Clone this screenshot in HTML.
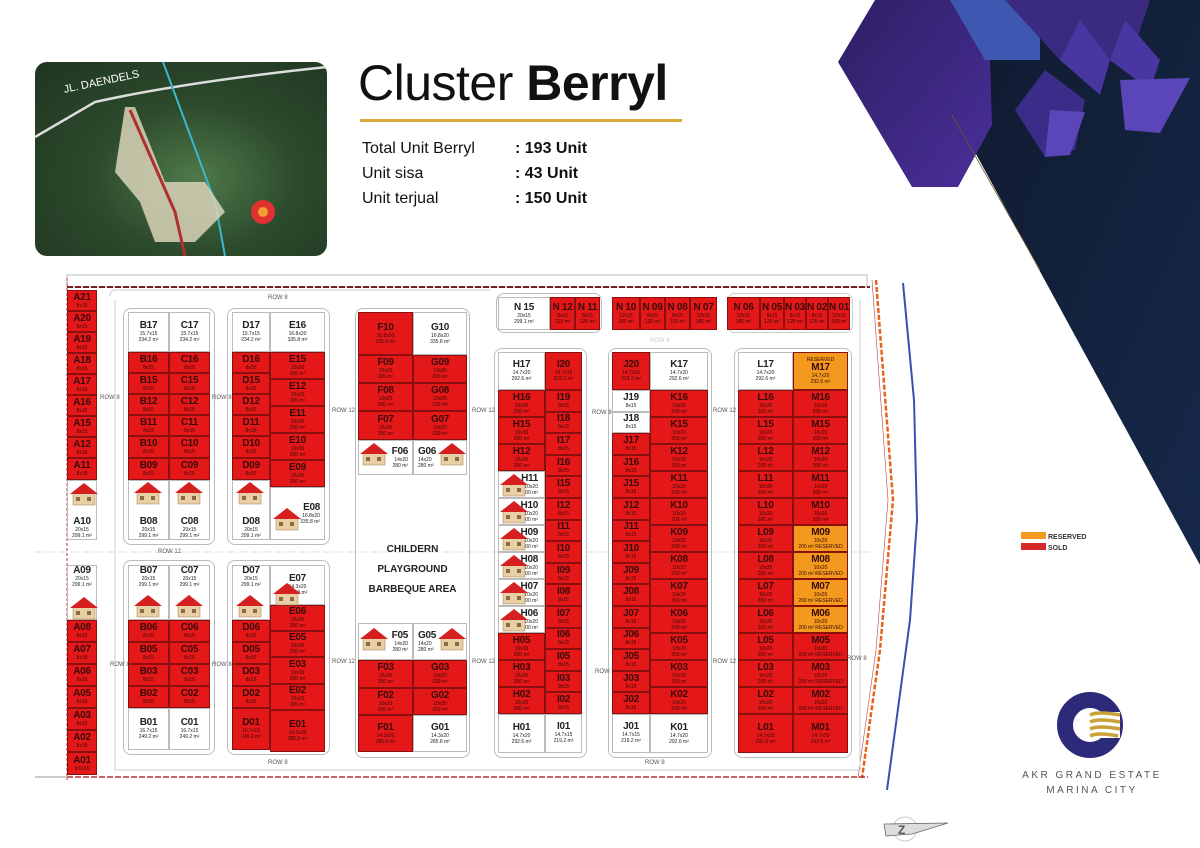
<!DOCTYPE html>
<html><head><meta charset="utf-8">
<style>
*{box-sizing:border-box;margin:0;padding:0}
body{width:1200px;height:848px;position:relative;overflow:hidden;background:#fff;font-family:"Liberation Sans","DejaVu Sans",sans-serif}
.abs{position:absolute}
.col{position:absolute;display:flex;flex-direction:column}
.col>div{flex:0 0 auto;border:0.5px solid #8a1010;display:flex;flex-direction:column;align-items:center;justify-content:center;overflow:hidden;line-height:1;color:#3a0a0a}
.col>div b{font-size:10px;font-weight:bold;letter-spacing:-0.3px}
.col>div i{font-style:normal;font-size:5px;margin-top:1px}
.r{background:#e41818}
.w{background:#fff;border-color:#bbb!important;color:#222!important}
.o{background:#f39a1e}
.blk{position:absolute;border:1.5px solid #bbb;border-radius:8px}
.lbl{position:absolute;font-size:6px;color:#555}
</style></head><body>

<svg class="abs" style="left:0;top:0" width="1200" height="848">
<defs>
<linearGradient id="dk" x1="0" y1="0" x2="1" y2="1"><stop offset="0" stop-color="#0f1a2e"/><stop offset="1" stop-color="#16284a"/></linearGradient>
<linearGradient id="pp" x1="0" y1="0" x2="1" y2="1"><stop offset="0" stop-color="#2e1f64"/><stop offset="1" stop-color="#4a2f9a"/></linearGradient>
</defs>
<polygon points="960,0 1200,0 1200,565 952,110" fill="url(#dk)"/>
<polygon points="838,62 875,0 960,0 990,60 992,125 958,187 912,187" fill="url(#pp)"/>
<polygon points="950,0 1040,0 1040,60 985,60" fill="#3e57b0"/>
<polygon points="1005,0 1150,0 1130,60 1060,60" fill="#3a2a80"/>
<polygon points="1015,110 1045,70 1085,100 1075,150 1045,157" fill="#3c2c8a"/>
<polygon points="1060,60 1080,20 1110,60 1100,95" fill="#4a36a0"/>
<polygon points="1110,60 1125,20 1160,60 1150,90" fill="#4a36a0"/>
<polygon points="1120,80 1190,78 1160,133 1125,130" fill="#5a46b8"/>
<polygon points="1050,110 1085,112 1070,155 1045,157" fill="#5a46b8"/>
<line x1="952" y1="115" x2="1040" y2="270" stroke="#6b5a2a" stroke-width="0.8"/>
<polyline points="903,283 914,400 917,520 910,620 887,790" fill="none" stroke="#3a4fb0" stroke-width="2"/>
<polyline points="876,280 893,500 880,650 862,778" fill="none" stroke="#e8641e" stroke-width="2.5" stroke-dasharray="5,2"/>
<polyline points="872,280 888,500 876,650 858,778" fill="none" stroke="#c04040" stroke-width="0.6"/>
<rect x="67" y="275" width="800" height="12" fill="none" stroke="#bbb"/>
<line x1="67" y1="287" x2="870" y2="287" stroke="#7a2020" stroke-width="2" stroke-dasharray="6,2"/>
<line x1="67" y1="777" x2="868" y2="777" stroke="#b03030" stroke-width="1.5" stroke-dasharray="6,2"/>
<line x1="35" y1="777" x2="67" y2="777" stroke="#999"/>
<line x1="67" y1="278" x2="67" y2="780" stroke="#c03030" stroke-width="1" stroke-dasharray="3,2"/>
<line x1="35" y1="552" x2="870" y2="552" stroke="#ddd" stroke-dasharray="8,4"/>
<path d="M110 296 Q110 290 116 290 L490 290 M115 300 L115 770 L860 770 L860 300" fill="none" stroke="#ccc"/>
<circle cx="905" cy="829" r="12" fill="none" stroke="#ccc"/>
<polygon points="884,824 948,823 912,834 886,836" fill="#ddd" stroke="#666" stroke-width="0.8"/>
<text x="898" y="834" font-size="12" font-weight="bold" fill="#555" font-family="Liberation Sans">Z</text>
<circle cx="1090" cy="725" r="25" fill="none" stroke="#2d2a7a" stroke-width="16"/>
<rect x="1090" y="712" width="30" height="26" fill="#fff"/>
<path d="M1090 715 q8 -4 30 0 M1090 722 q8 -4 30 0 M1090 729 q8 -4 30 0 M1090 736 q8 -4 28 0" stroke="#c9a23a" stroke-width="3.5" fill="none"/>
</svg>

<div class="abs" style="left:35px;top:62px;width:292px;height:194px;border-radius:12px;background:radial-gradient(ellipse at 55% 60%,#4f7a4a 0%,#2c4a2c 45%,#1f3520 100%);overflow:hidden">
<svg width="292" height="194"><path d="M0 75 L60 40 Q150 20 292 5" stroke="#ddd" stroke-width="2.5" fill="none"/>
<path d="M128 0 Q150 60 180 140 L190 194" stroke="#3ab8d0" stroke-width="2" fill="none"/>
<polygon points="90,45 100,45 130,120 170,120 190,150 160,180 120,180 105,140 80,110" fill="#d9d3b8" opacity=".85"/>
<path d="M95 48 L140 150 L150 194" stroke="#b03030" stroke-width="3" fill="none"/>
<circle cx="228" cy="150" r="12" fill="#e03030"/><circle cx="228" cy="150" r="5" fill="#f0a030"/></svg>
<div class="abs" style="left:28px;top:14px;color:#fff;font-size:11px;transform:rotate(-12deg)">JL. DAENDELS</div>
</div>

<div class="abs" style="left:358px;top:54px;font-size:50px;color:#111;letter-spacing:-0.5px">Cluster <b>Berryl</b></div>
<div class="abs" style="left:360px;top:119px;width:322px;height:3px;background:#d9a93a"></div>
<div class="abs" style="left:362px;top:136px;font-size:16px;line-height:25px;color:#111">Total Unit Berryl<br>Unit sisa<br>Unit terjual</div>
<div class="abs" style="left:515px;top:136px;font-size:16px;line-height:25px;color:#111;font-weight:bold">: 193 Unit<br>: 43 Unit<br>: 150 Unit</div>

<div class="abs" style="left:1021px;top:532px;width:25px;height:7px;background:#f39a1e"></div>
<div class="abs" style="left:1021px;top:543px;width:25px;height:7px;background:#d42a2a"></div>
<div class="abs" style="left:1048px;top:532px;font-size:7px;font-weight:bold;color:#333;line-height:11px">RESERVED<br>SOLD</div>
<div class="abs" style="left:1012px;top:768px;font-size:10px;letter-spacing:2.5px;color:#555;text-align:center;width:160px;line-height:15px">AKR GRAND ESTATE<br>MARINA CITY</div>

<div class="blk" style="left:123px;top:308px;width:92px;height:237px"></div>
<div class="blk" style="left:123px;top:560px;width:92px;height:195px"></div>
<div class="blk" style="left:227px;top:308px;width:103px;height:237px"></div>
<div class="blk" style="left:227px;top:560px;width:103px;height:195px"></div>
<div class="blk" style="left:355px;top:308px;width:115px;height:450px"></div>
<div class="blk" style="left:494px;top:348px;width:93px;height:410px"></div>
<div class="blk" style="left:608px;top:348px;width:104px;height:410px"></div>
<div class="blk" style="left:734px;top:348px;width:118px;height:410px"></div>
<div class="blk" style="left:496px;top:293px;width:106px;height:40px"></div>
<div class="blk" style="left:727px;top:293px;width:126px;height:40px;border-color:#ccc"></div>

<div class="lbl" style="left:268px;top:295px">ROW 8</div>
<div class="lbl" style="left:100px;top:395px">ROW 8</div>
<div class="lbl" style="left:212px;top:395px">ROW 8</div>
<div class="lbl" style="left:332px;top:408px">ROW 12</div>
<div class="lbl" style="left:472px;top:408px">ROW 12</div>
<div class="lbl" style="left:592px;top:410px">ROW 8</div>
<div class="lbl" style="left:713px;top:408px">ROW 12</div>
<div class="lbl" style="left:158px;top:549px">ROW 12</div>
<div class="lbl" style="left:110px;top:662px">ROW 8</div>
<div class="lbl" style="left:212px;top:662px">ROW 8</div>
<div class="lbl" style="left:332px;top:659px">ROW 12</div>
<div class="lbl" style="left:472px;top:659px">ROW 12</div>
<div class="lbl" style="left:595px;top:669px">ROW 8</div>
<div class="lbl" style="left:713px;top:659px">ROW 12</div>
<div class="lbl" style="left:847px;top:656px">ROW 8</div>
<div class="lbl" style="left:268px;top:760px">ROW 8</div>
<div class="lbl" style="left:645px;top:760px">ROW 8</div>
<div class="lbl" style="left:650px;top:338px;color:#ccc">ROW 8</div>

<div class="col" style="left:67px;top:290px;width:30px">
<div class="r" style="height:21px"><b>A21</b><i>8x15</i></div><div class="r" style="height:21px"><b>A20</b><i>8x15</i></div><div class="r" style="height:21px"><b>A19</b><i>8x15</i></div><div class="r" style="height:21px"><b>A18</b><i>8x15</i></div><div class="r" style="height:21px"><b>A17</b><i>8x15</i></div><div class="r" style="height:21px"><b>A16</b><i>8x15</i></div><div class="r" style="height:21px"><b>A15</b><i>8x15</i></div><div class="r" style="height:21px"><b>A12</b><i>8x15</i></div><div class="r" style="height:22px"><b>A11</b><i>8x15</i></div>
<div class="w" style="height:60px;justify-content:flex-end"><b>A10</b><i>20x15</i><i>299.1 m²</i></div>
</div>
<div class="col" style="left:67px;top:565px;width:30px">
<div class="w" style="height:55px;justify-content:flex-start"><b>A09</b><i>20x15</i><i>299.1 m²</i></div>
<div class="r" style="height:22px"><b>A08</b><i>8x15</i></div><div class="r" style="height:22px"><b>A07</b><i>8x15</i></div><div class="r" style="height:22px"><b>A06</b><i>8x15</i></div><div class="r" style="height:22px"><b>A05</b><i>8x15</i></div><div class="r" style="height:22px"><b>A03</b><i>8x15</i></div><div class="r" style="height:22px"><b>A02</b><i>8x15</i></div><div class="r" style="height:23px"><b>A01</b><i>9.6x15</i></div>
</div>

<div class="col" style="left:128px;top:312px;width:41px">
<div class="w" style="height:40px"><b>B17</b><i>15.7x15</i><i>234.2 m²</i></div>
<div class="r" style="height:21px"><b>B16</b><i>8x15</i></div><div class="r" style="height:21px"><b>B15</b><i>8x15</i></div><div class="r" style="height:21px"><b>B12</b><i>8x15</i></div><div class="r" style="height:21px"><b>B11</b><i>8x15</i></div><div class="r" style="height:22px"><b>B10</b><i>8x15</i></div><div class="r" style="height:22px"><b>B09</b><i>8x15</i></div>
<div class="w" style="height:60px;justify-content:flex-end"><b>B08</b><i>20x15</i><i>299.1 m²</i></div></div>
<div class="col" style="left:169px;top:312px;width:41px">
<div class="w" style="height:40px"><b>C17</b><i>15.7x15</i><i>234.2 m²</i></div>
<div class="r" style="height:21px"><b>C16</b><i>8x15</i></div><div class="r" style="height:21px"><b>C15</b><i>8x15</i></div><div class="r" style="height:21px"><b>C12</b><i>8x15</i></div><div class="r" style="height:21px"><b>C11</b><i>8x15</i></div><div class="r" style="height:22px"><b>C10</b><i>8x15</i></div><div class="r" style="height:22px"><b>C09</b><i>8x15</i></div>
<div class="w" style="height:60px;justify-content:flex-end"><b>C08</b><i>20x15</i><i>299.1 m²</i></div></div>
<div class="col" style="left:128px;top:565px;width:41px">
<div class="w" style="height:55px;justify-content:flex-start"><b>B07</b><i>20x15</i><i>299.1 m²</i></div>
<div class="r" style="height:22px"><b>B06</b><i>8x15</i></div><div class="r" style="height:22px"><b>B05</b><i>8x15</i></div><div class="r" style="height:22px"><b>B03</b><i>8x15</i></div><div class="r" style="height:22px"><b>B02</b><i>8x15</i></div>
<div class="w" style="height:42px"><b>B01</b><i>16.7x15</i><i>249.2 m²</i></div></div>
<div class="col" style="left:169px;top:565px;width:41px">
<div class="w" style="height:55px;justify-content:flex-start"><b>C07</b><i>20x15</i><i>299.1 m²</i></div>
<div class="r" style="height:22px"><b>C06</b><i>8x15</i></div><div class="r" style="height:22px"><b>C05</b><i>8x15</i></div><div class="r" style="height:22px"><b>C03</b><i>8x15</i></div><div class="r" style="height:22px"><b>C02</b><i>8x15</i></div>
<div class="w" style="height:42px"><b>C01</b><i>16.7x15</i><i>249.2 m²</i></div></div>

<div class="col" style="left:232px;top:312px;width:38px">
<div class="w" style="height:40px"><b>D17</b><i>15.7x15</i><i>234.2 m²</i></div>
<div class="r" style="height:21px"><b>D16</b><i>8x15</i></div><div class="r" style="height:21px"><b>D15</b><i>8x15</i></div><div class="r" style="height:21px"><b>D12</b><i>8x15</i></div><div class="r" style="height:21px"><b>D11</b><i>8x15</i></div><div class="r" style="height:22px"><b>D10</b><i>8x15</i></div><div class="r" style="height:22px"><b>D09</b><i>8x15</i></div>
<div class="w" style="height:60px;justify-content:flex-end"><b>D08</b><i>20x15</i><i>299.1 m²</i></div></div>
<div class="col" style="left:270px;top:312px;width:55px">
<div class="w" style="height:40px"><b>E16</b><i>16.8x20</i><i>335.8 m²</i></div>
<div class="r" style="height:27px"><b>E15</b><i>10x20</i><i>200 m²</i></div><div class="r" style="height:27px"><b>E12</b><i>10x20</i><i>200 m²</i></div><div class="r" style="height:27px"><b>E11</b><i>10x20</i><i>200 m²</i></div><div class="r" style="height:27px"><b>E10</b><i>10x20</i><i>200 m²</i></div><div class="r" style="height:27px"><b>E09</b><i>10x20</i><i>200 m²</i></div>
<div class="w" style="height:53px;align-items:flex-end;padding-right:4px"><b>E08</b><i>16.8x20</i><i>335.8 m²</i></div></div>
<div class="col" style="left:232px;top:565px;width:38px">
<div class="w" style="height:55px;justify-content:flex-start"><b>D07</b><i>20x15</i><i>299.1 m²</i></div>
<div class="r" style="height:22px"><b>D06</b><i>8x15</i></div><div class="r" style="height:22px"><b>D05</b><i>8x15</i></div><div class="r" style="height:22px"><b>D03</b><i>8x15</i></div><div class="r" style="height:22px"><b>D02</b><i>8x15</i></div>
<div class="r" style="height:42px"><b>D01</b><i>16.7x15</i><i>249.2 m²</i></div></div>
<div class="col" style="left:270px;top:565px;width:55px">
<div class="w" style="height:40px"><b>E07</b><i>14.3x20</i><i>285.8 m²</i></div>
<div class="r" style="height:26px"><b>E06</b><i>10x20</i><i>200 m²</i></div><div class="r" style="height:26px"><b>E05</b><i>10x20</i><i>200 m²</i></div><div class="r" style="height:27px"><b>E03</b><i>10x20</i><i>200 m²</i></div><div class="r" style="height:26px"><b>E02</b><i>10x20</i><i>200 m²</i></div>
<div class="r" style="height:42px"><b>E01</b><i>14.3x20</i><i>285.8 m²</i></div></div>

<div class="col" style="left:358px;top:312px;width:55px">
<div class="r" style="height:43px"><b>F10</b><i>16.8x20</i><i>335.8 m²</i></div>
<div class="r" style="height:28px"><b>F09</b><i>10x20</i><i>200 m²</i></div><div class="r" style="height:28px"><b>F08</b><i>10x20</i><i>200 m²</i></div><div class="r" style="height:29px"><b>F07</b><i>10x20</i><i>200 m²</i></div>
<div class="w" style="height:35px;align-items:flex-end;padding-right:4px"><b>F06</b><i>14x20</i><i>280 m²</i></div></div>
<div class="col" style="left:413px;top:312px;width:54px">
<div class="w" style="height:43px"><b>G10</b><i>16.8x20</i><i>335.8 m²</i></div>
<div class="r" style="height:28px"><b>G09</b><i>10x20</i><i>200 m²</i></div><div class="r" style="height:28px"><b>G08</b><i>10x20</i><i>200 m²</i></div><div class="r" style="height:29px"><b>G07</b><i>10x20</i><i>200 m²</i></div>
<div class="w" style="height:35px;align-items:flex-start;padding-left:4px"><b>G06</b><i>14x20</i><i>280 m²</i></div></div>
<div class="abs" style="left:358px;top:540px;width:109px;text-align:center;font-size:10px;font-weight:bold;line-height:20px;color:#222">CHILDERN PLAYGROUND<br>BARBEQUE AREA</div>
<div class="col" style="left:358px;top:623px;width:55px">
<div class="w" style="height:37px;align-items:flex-end;padding-right:4px"><b>F05</b><i>14x20</i><i>280 m²</i></div>
<div class="r" style="height:28px"><b>F03</b><i>10x20</i><i>200 m²</i></div><div class="r" style="height:27px"><b>F02</b><i>10x20</i><i>200 m²</i></div>
<div class="r" style="height:37px"><b>F01</b><i>14.3x20</i><i>285.8 m²</i></div></div>
<div class="col" style="left:413px;top:623px;width:54px">
<div class="w" style="height:37px;align-items:flex-start;padding-left:4px"><b>G05</b><i>14x20</i><i>280 m²</i></div>
<div class="r" style="height:28px"><b>G03</b><i>10x20</i><i>200 m²</i></div><div class="r" style="height:27px"><b>G02</b><i>10x20</i><i>200 m²</i></div>
<div class="w" style="height:37px"><b>G01</b><i>14.3x20</i><i>285.8 m²</i></div></div>

<div class="col" style="left:498px;top:297px;width:52px"><div class="w" style="height:33px"><b>N 15</b><i>20x15</i><i>299.1 m²</i></div></div>
<div class="col" style="left:550px;top:297px;width:25px"><div class="r" style="height:33px"><b>N 12</b><i>8x15</i><i>120 m²</i></div></div>
<div class="col" style="left:575px;top:297px;width:25px"><div class="r" style="height:33px"><b>N 11</b><i>8x15</i><i>120 m²</i></div></div>
<div class="col" style="left:612px;top:297px;width:28px"><div class="r" style="height:33px"><b>N 10</b><i>12x15</i><i>180 m²</i></div></div>
<div class="col" style="left:640px;top:297px;width:25px"><div class="r" style="height:33px"><b>N 09</b><i>8x15</i><i>120 m²</i></div></div>
<div class="col" style="left:665px;top:297px;width:25px"><div class="r" style="height:33px"><b>N 08</b><i>8x15</i><i>120 m²</i></div></div>
<div class="col" style="left:690px;top:297px;width:27px"><div class="r" style="height:33px"><b>N 07</b><i>12x15</i><i>180 m²</i></div></div>
<div class="col" style="left:727px;top:297px;width:33px"><div class="r" style="height:33px"><b>N 06</b><i>12x15</i><i>180 m²</i></div></div>
<div class="col" style="left:760px;top:297px;width:24px"><div class="r" style="height:33px"><b>N 05</b><i>8x15</i><i>120 m²</i></div></div>
<div class="col" style="left:784px;top:297px;width:22px"><div class="r" style="height:33px"><b>N 03</b><i>8x15</i><i>120 m²</i></div></div>
<div class="col" style="left:806px;top:297px;width:22px"><div class="r" style="height:33px"><b>N 02</b><i>8x15</i><i>120 m²</i></div></div>
<div class="col" style="left:828px;top:297px;width:22px"><div class="r" style="height:33px"><b>N 01</b><i>12x15</i><i>180 m²</i></div></div>

<div class="col" style="left:498px;top:352px;width:47px">
<div class="w" style="height:38px"><b>H17</b><i>14.7x20</i><i>292.6 m²</i></div>
<div class="r" style="height:27px"><b>H16</b><i>10x20</i><i>200 m²</i></div><div class="r" style="height:27px"><b>H15</b><i>10x20</i><i>200 m²</i></div><div class="r" style="height:27px"><b>H12</b><i>10x20</i><i>200 m²</i></div>
<div class="w" style="height:27px;align-items:flex-end;padding-right:6px"><b>H11</b><i>10x20</i><i>200 m²</i></div><div class="w" style="height:27px;align-items:flex-end;padding-right:6px"><b>H10</b><i>10x20</i><i>200 m²</i></div><div class="w" style="height:27px;align-items:flex-end;padding-right:6px"><b>H09</b><i>10x20</i><i>200 m²</i></div><div class="w" style="height:27px;align-items:flex-end;padding-right:6px"><b>H08</b><i>10x20</i><i>200 m²</i></div><div class="w" style="height:27px;align-items:flex-end;padding-right:6px"><b>H07</b><i>10x20</i><i>200 m²</i></div><div class="w" style="height:27px;align-items:flex-end;padding-right:6px"><b>H06</b><i>10x20</i><i>200 m²</i></div>
<div class="r" style="height:27px"><b>H05</b><i>10x20</i><i>200 m²</i></div><div class="r" style="height:27px"><b>H03</b><i>10x20</i><i>200 m²</i></div><div class="r" style="height:27px"><b>H02</b><i>10x20</i><i>200 m²</i></div>
<div class="w" style="height:39px"><b>H01</b><i>14.7x20</i><i>292.6 m²</i></div></div>
<div class="col" style="left:545px;top:352px;width:37px">
<div class="r" style="height:38px"><b>I20</b><i>14.7x15</i><i>219.2 m²</i></div>
<div class="r" style="height:21.6px"><b>I19</b><i>8x15</i></div><div class="r" style="height:21.6px"><b>I18</b><i>8x15</i></div><div class="r" style="height:21.6px"><b>I17</b><i>8x15</i></div><div class="r" style="height:21.6px"><b>I16</b><i>8x15</i></div><div class="r" style="height:21.6px"><b>I15</b><i>8x15</i></div><div class="r" style="height:21.6px"><b>I12</b><i>8x15</i></div><div class="r" style="height:21.6px"><b>I11</b><i>8x15</i></div><div class="r" style="height:21.6px"><b>I10</b><i>8x15</i></div><div class="r" style="height:21.6px"><b>I09</b><i>8x15</i></div><div class="r" style="height:21.6px"><b>I08</b><i>8x15</i></div><div class="r" style="height:21.6px"><b>I07</b><i>8x15</i></div><div class="r" style="height:21.6px"><b>I06</b><i>8x15</i></div><div class="r" style="height:21.6px"><b>I05</b><i>8x15</i></div><div class="r" style="height:21.6px"><b>I03</b><i>8x15</i></div><div class="r" style="height:21.6px"><b>I02</b><i>8x15</i></div>
<div class="w" style="height:39px"><b>I01</b><i>14.7x15</i><i>219.2 m²</i></div></div>

<div class="col" style="left:612px;top:352px;width:38px">
<div class="r" style="height:38px"><b>J20</b><i>14.7x15</i><i>219.2 m²</i></div>
<div class="w" style="height:21.6px"><b>J19</b><i>8x15</i></div><div class="w" style="height:21.6px"><b>J18</b><i>8x15</i></div>
<div class="r" style="height:21.6px"><b>J17</b><i>8x15</i></div><div class="r" style="height:21.6px"><b>J16</b><i>8x15</i></div><div class="r" style="height:21.6px"><b>J15</b><i>8x15</i></div><div class="r" style="height:21.6px"><b>J12</b><i>8x15</i></div><div class="r" style="height:21.6px"><b>J11</b><i>8x15</i></div><div class="r" style="height:21.6px"><b>J10</b><i>8x15</i></div><div class="r" style="height:21.6px"><b>J09</b><i>8x15</i></div><div class="r" style="height:21.6px"><b>J08</b><i>8x15</i></div><div class="r" style="height:21.6px"><b>J07</b><i>8x15</i></div><div class="r" style="height:21.6px"><b>J06</b><i>8x15</i></div><div class="r" style="height:21.6px"><b>J05</b><i>8x15</i></div><div class="r" style="height:21.6px"><b>J03</b><i>8x15</i></div><div class="r" style="height:21.6px"><b>J02</b><i>8x15</i></div>
<div class="w" style="height:39px"><b>J01</b><i>14.7x15</i><i>219.2 m²</i></div></div>
<div class="col" style="left:650px;top:352px;width:58px">
<div class="w" style="height:38px"><b>K17</b><i>14.7x20</i><i>292.6 m²</i></div>
<div class="r" style="height:27px"><b>K16</b><i>10x20</i><i>200 m²</i></div><div class="r" style="height:27px"><b>K15</b><i>10x20</i><i>200 m²</i></div><div class="r" style="height:27px"><b>K12</b><i>10x20</i><i>200 m²</i></div><div class="r" style="height:27px"><b>K11</b><i>10x20</i><i>200 m²</i></div><div class="r" style="height:27px"><b>K10</b><i>10x20</i><i>200 m²</i></div><div class="r" style="height:27px"><b>K09</b><i>10x20</i><i>200 m²</i></div><div class="r" style="height:27px"><b>K08</b><i>10x20</i><i>200 m²</i></div><div class="r" style="height:27px"><b>K07</b><i>10x20</i><i>200 m²</i></div><div class="r" style="height:27px"><b>K06</b><i>10x20</i><i>200 m²</i></div><div class="r" style="height:27px"><b>K05</b><i>10x20</i><i>200 m²</i></div><div class="r" style="height:27px"><b>K03</b><i>10x20</i><i>200 m²</i></div><div class="r" style="height:27px"><b>K02</b><i>10x20</i><i>200 m²</i></div>
<div class="w" style="height:39px"><b>K01</b><i>14.7x20</i><i>292.6 m²</i></div></div>

<div class="col" style="left:738px;top:352px;width:55px">
<div class="w" style="height:38px"><b>L17</b><i>14.7x20</i><i>292.6 m²</i></div>
<div class="r" style="height:27px"><b>L16</b><i>10x20</i><i>200 m²</i></div><div class="r" style="height:27px"><b>L15</b><i>10x20</i><i>200 m²</i></div><div class="r" style="height:27px"><b>L12</b><i>10x20</i><i>200 m²</i></div><div class="r" style="height:27px"><b>L11</b><i>10x20</i><i>200 m²</i></div><div class="r" style="height:27px"><b>L10</b><i>10x20</i><i>200 m²</i></div><div class="r" style="height:27px"><b>L09</b><i>10x20</i><i>200 m²</i></div><div class="r" style="height:27px"><b>L08</b><i>10x20</i><i>200 m²</i></div><div class="r" style="height:27px"><b>L07</b><i>10x20</i><i>200 m²</i></div><div class="r" style="height:27px"><b>L06</b><i>10x20</i><i>200 m²</i></div><div class="r" style="height:27px"><b>L05</b><i>10x20</i><i>200 m²</i></div><div class="r" style="height:27px"><b>L03</b><i>10x20</i><i>200 m²</i></div><div class="r" style="height:27px"><b>L02</b><i>10x20</i><i>200 m²</i></div>
<div class="r" style="height:39px"><b>L01</b><i>14.7x20</i><i>292.6 m²</i></div></div>
<div class="col" style="left:793px;top:352px;width:55px">
<div class="o" style="height:38px"><i>RESERVED</i><b>M17</b><i>14.7x20</i><i>292.6 m²</i></div>
<div class="r" style="height:27px"><b>M16</b><i>10x20</i><i>200 m²</i></div><div class="r" style="height:27px"><b>M15</b><i>10x20</i><i>200 m²</i></div><div class="r" style="height:27px"><b>M12</b><i>10x20</i><i>200 m²</i></div><div class="r" style="height:27px"><b>M11</b><i>10x20</i><i>200 m²</i></div><div class="r" style="height:27px"><b>M10</b><i>10x20</i><i>200 m²</i></div>
<div class="o" style="height:27px"><b>M09</b><i>10x20</i><i>200 m² RESERVED</i></div><div class="o" style="height:27px"><b>M08</b><i>10x20</i><i>200 m² RESERVED</i></div><div class="o" style="height:27px"><b>M07</b><i>10x20</i><i>200 m² RESERVED</i></div><div class="o" style="height:27px"><b>M06</b><i>10x20</i><i>200 m² RESERVED</i></div>
<div class="r" style="height:27px"><b>M05</b><i>10x20</i><i>200 m² RESERVED</i></div><div class="r" style="height:27px"><b>M03</b><i>10x20</i><i>200 m² RESERVED</i></div><div class="r" style="height:27px"><b>M02</b><i>10x20</i><i>200 m² RESERVED</i></div>
<div class="r" style="height:39px"><b>M01</b><i>14.7x20</i><i>292.6 m²</i></div></div>

<svg class="abs" style="left:0;top:0;pointer-events:none" width="1200" height="848">
<defs><g id="h"><rect x="3" y="10" width="22" height="12" fill="#e9cfa6" stroke="#a07a50" stroke-width=".5"/><polygon points="0,11 14,0 28,11" fill="#d62020"/><rect x="6" y="14" width="4" height="4" fill="#8a6a40"/><rect x="17" y="14" width="4" height="4" fill="#8a6a40"/></g></defs>
<use href="#h" x="70" y="483"/><use href="#h" x="134" y="482"/><use href="#h" x="175" y="482"/><use href="#h" x="236" y="482"/><use href="#h" x="273" y="508"/>
<use href="#h" x="70" y="597"/><use href="#h" x="134" y="595"/><use href="#h" x="175" y="595"/><use href="#h" x="236" y="595"/><use href="#h" x="273" y="583"/>
<use href="#h" x="360" y="443"/><use href="#h" x="438" y="443"/><use href="#h" x="360" y="628"/><use href="#h" x="438" y="628"/>
<use href="#h" x="500" y="474"/><use href="#h" x="500" y="501"/><use href="#h" x="500" y="528"/><use href="#h" x="500" y="555"/><use href="#h" x="500" y="582"/><use href="#h" x="500" y="609"/>
</svg>
</body></html>
